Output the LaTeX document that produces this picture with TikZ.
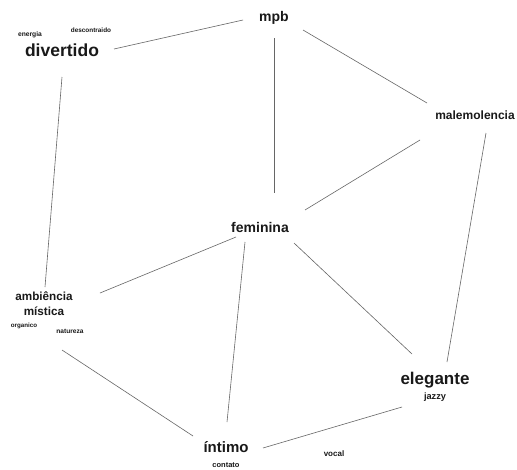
\documentclass[tikz,border=0pt]{standalone}
\usepackage{fontspec}
\setmainfont{Liberation Sans}
\begin{document}
\begin{tikzpicture}[x=1pt,y=-1pt,
  word/.style={font=\bfseries, text=black!90, inner sep=0pt, align=center},
  fs/.style={font=\bfseries\fontsize{#1}{15}\selectfont},
  link/.style={draw=black!60, line width=0.6pt}]
\useasboundingbox[fill=white] (0,0) rectangle (517,469);

% main terms
\node[word, fs=14]   (mpb)  at (274,18)  {mpb};
\node[word, fs=17.5] (div)  at (62,50)   {divertido};
\node[word, fs=12]   (mal)  at (475,115) {malemolencia};
\node[word, fs=14]   (fem)  at (260,227) {feminina};
\node[word, fs=11.7] (amb)  at (44,304)  {ambiência\\mística};
\node[word, fs=17]   (ele)  at (435,380) {elegante};
\node[word, fs=15]   (inti) at (226,447) {íntimo};

% secondary terms
\node[word, fs=6.7] (ene) at (30,35)  {energia};
\node[word, fs=6.4] (des) at (91,30)  {descontraido};
\node[word, fs=6.2] (org) at (24,326) {organico};
\node[word, fs=6.6] (nat) at (70,331) {natureza};
\node[word, fs=9.2] (jaz) at (435,397) {jazzy};
\node[word, fs=7.5] (con) at (226,465) {contato};
\node[word, fs=8]   (voc) at (334,454) {vocal};

% links between terms, each end set off from its word
\draw[link] ([shift={(-31,2)}]mpb.center)   -- ([shift={(52,-1)}]div.center);
\draw[link] ([shift={(29,12)}]mpb.center)   -- ([shift={(-48,-12)}]mal.center);
\draw[link] ([shift={(0,20)}]mpb.center)    -- ([shift={(14,-34)}]fem.center);
\draw[link] ([shift={(0,27)}]div.center)    -- ([shift={(1,-17)}]amb.center);
\draw[link] ([shift={(-55,25)}]mal.center)  -- ([shift={(45,-17)}]fem.center);
\draw[link] ([shift={(11,18)}]mal.center)   -- ([shift={(12,-18)}]ele.center);
\draw[link] ([shift={(-24,10)}]fem.center)  -- ([shift={(56,-11)}]amb.center);
\draw[link] ([shift={(-15,15)}]fem.center)  -- ([shift={(1,-25)}]inti.center);
\draw[link] ([shift={(34,16)}]fem.center)   -- ([shift={(-23,-26)}]ele.center);
\draw[link] ([shift={(18,46)}]amb.center)   -- ([shift={(-33,-11)}]inti.center);
\draw[link] ([shift={(-33,27)}]ele.center)  -- ([shift={(37,1)}]inti.center);
\end{tikzpicture}
\end{document}
